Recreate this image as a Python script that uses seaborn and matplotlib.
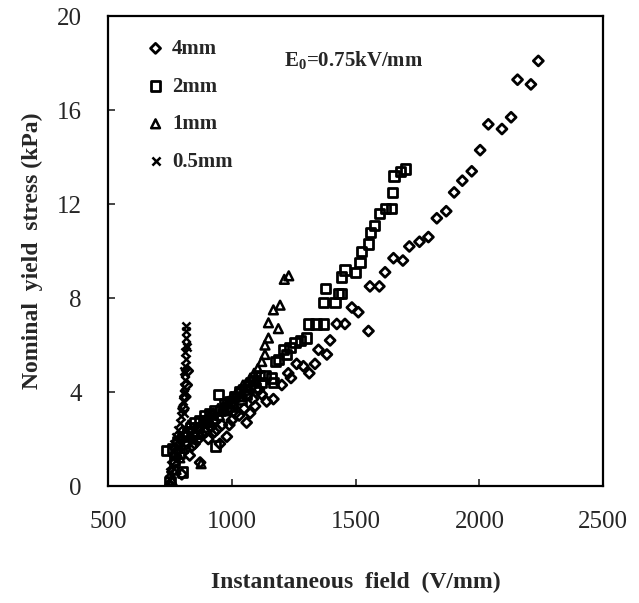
import numpy as np
import pandas as pd
import matplotlib
matplotlib.use('Agg')
import matplotlib.pyplot as plt
import seaborn as sns

# data (V/mm, kPa)
x_4mm = [2238, 2154, 2208, 2128, 2091, 2036, 2003, 1969, 1931, 1898, 1866, 1828, 1794, 1758,
         1717, 1691, 1653, 1619, 1596, 1558, 1552, 1511, 1485, 1457, 1424, 1397, 1384, 1350,
         1336, 1313, 1289, 1262, 1239, 1228, 1202, 1168, 1141, 1121, 1094, 1074, 1060, 1030,
         1000, 980, 952, 930, 905, 880, 872, 850, 830, 822, 818, 812, 805, 798, 790, 770, 750,
         1110, 1085, 1050, 1015, 990, 960, 940, 915, 895, 865, 840, 780, 760]
y_4mm = [18.1, 17.3, 17.1, 15.7, 15.2, 15.4, 14.3, 13.4, 13.0, 12.5, 11.7, 11.4, 10.6, 10.4,
         10.2, 9.6, 9.7, 9.1, 8.5, 8.5, 6.6, 7.4, 7.6, 6.9, 6.9, 6.2, 5.6, 5.8,
         5.2, 4.8, 5.1, 5.2, 4.6, 4.8, 4.3, 3.7, 3.6, 3.9, 3.4, 3.1, 2.7, 3.0,
         2.8, 2.1, 1.8, 2.3, 2.0, 2.2, 1.0, 1.8, 1.3, 4.9, 4.3, 3.8, 3.3, 0.5, 2.0, 1.0, 0.0,
         4.1, 3.7, 3.3, 3.1, 2.6, 2.6, 2.4, 2.5, 2.3, 2.0, 1.7, 1.5, 0.6]

x_2mm = [1700, 1680, 1655, 1650, 1645, 1620, 1595, 1575, 1560, 1552, 1525, 1518, 1498, 1457,
         1444, 1444, 1430, 1417, 1377, 1370, 1370, 1340, 1310, 1303, 1276, 1255, 1235, 1222,
         1208, 1188, 1175, 1168, 1161, 1134, 1110, 1090, 1070, 1050, 1030, 1010, 990, 970,
         945, 930, 910, 890, 870, 850, 832, 820, 800, 780, 760, 735, 935, 800, 750,
         1120, 1095, 1060, 1040, 1000, 980, 955, 920, 900, 860, 840, 810, 790, 770]
y_2mm = [13.5, 13.4, 13.2, 12.5, 11.8, 11.8, 11.6, 11.1, 10.8, 10.3, 10.0, 9.5, 9.1, 9.2,
         8.9, 8.2, 8.2, 7.8, 8.4, 7.8, 6.9, 6.9, 6.9, 6.3, 6.2, 6.1, 5.9, 5.6,
         5.8, 5.4, 5.3, 4.4, 4.6, 4.7, 4.7, 4.5, 4.3, 4.1, 4.0, 3.8, 3.6, 3.5,
         3.9, 3.2, 3.1, 3.0, 2.8, 2.7, 2.5, 2.3, 2.1, 1.9, 1.6, 1.5, 1.7, 0.6, 0.2,
         4.4, 4.2, 3.9, 3.7, 3.4, 3.3, 3.2, 2.9, 2.8, 2.5, 2.3, 1.8, 1.4, 1.1]

x_1mm = [1230, 1212, 1195, 1168, 1148, 1188, 1148, 1134, 1134, 1121, 1105, 1090, 1075, 1060,
         1045, 1030, 1015, 1000, 985, 965, 945, 925, 905, 885, 876, 865, 850, 835, 820, 805,
         790, 775, 760, 1095, 1070, 1040, 1010, 975, 950, 915, 895, 870, 845, 825, 810]
y_1mm = [8.95, 8.8, 7.7, 7.5, 6.95, 6.7, 6.3, 6.0, 5.6, 5.3, 5.0, 4.8, 4.6, 4.4,
         4.3, 4.1, 3.9, 3.8, 3.6, 3.4, 3.3, 3.1, 2.9, 2.7, 0.95, 2.5, 2.3, 2.1, 1.9, 1.6,
         1.2, 0.7, 0.2, 4.5, 4.2, 3.8, 3.5, 3.2, 3.0, 2.7, 2.5, 2.2, 2.0, 2.6, 2.3]

x_05mm = [745, 748, 750, 753, 757, 762, 768, 775, 782, 790, 795, 800, 803, 806, 808, 811,
          813, 810, 815, 812, 817, 814, 816, 805, 812, 808, 818, 815]
y_05mm = [0.0, 0.3, 0.6, 0.9, 1.2, 1.5, 1.8, 2.1, 2.4, 2.7, 3.0, 3.3, 3.6, 3.9, 4.2, 4.5,
          4.8, 5.1, 5.4, 5.7, 6.0, 6.3, 6.6, 3.1, 4.0, 4.9, 5.9, 6.8]

labels = ['4mm', '2mm', '1mm', '0.5mm']
xticks = [500, 1000, 1500, 2000, 2500]
yticks = [0, 4, 8, 12, 16, 20]

sns.set_style('ticks')
plt.rcParams['font.family'] = ['Liberation Serif', 'DejaVu Serif']
plt.rcParams['mathtext.fontset'] = 'custom'
plt.rcParams['mathtext.rm'] = 'Liberation Serif:bold'
plt.rcParams['mathtext.bf'] = 'Liberation Serif:bold'

fig = plt.figure(figsize=(6.39, 6.03), dpi=100)
ax = fig.add_axes([0.169, 0.194, 0.775, 0.779])

series = [
    (x_4mm, y_4mm, 'D', 26, 2.0),
    (x_2mm, y_2mm, 's', 44, 2.0),
    (x_1mm, y_1mm, '^', 40, 1.8),
]
for (xs, ys, m, s, lw), lab in zip(series, labels[:3]):
    df = pd.DataFrame({'field': xs, 'stress': ys})
    sns.scatterplot(data=df, x='field', y='stress', marker=m, s=s, facecolor='none',
                    edgecolor='black', linewidth=lw, ax=ax, label=lab)
df = pd.DataFrame({'field': x_05mm, 'stress': y_05mm})
sns.scatterplot(data=df, x='field', y='stress', marker='x', s=34, color='black',
                linewidth=1.8, ax=ax, label=labels[3])

ax.set_xlim(500, 2500)
ax.set_ylim(0, 20)
ax.set_xticks(xticks)
ax.set_yticks(yticks)
ax.tick_params(direction='in', length=5, width=1.2, labelsize=18)
ax.tick_params(axis='x', pad=18)
ax.tick_params(axis='y', pad=19)
for sp in ax.spines.values():
    sp.set_linewidth(1.6)
    sp.set_color('black')

ax.set_xlabel('Instantaneous  field  (V/mm)', fontsize=17, fontweight='bold', labelpad=28)
ax.set_ylabel('Nominal  yield  stress (kPa)', fontsize=17, fontweight='bold', labelpad=10)

ax.text(0.355, 0.905, r'E$_{0}$=0.75kV/mm', transform=ax.transAxes, fontsize=15,
        fontweight='bold', va='center', ha='left')

ax.legend(loc='upper left', bbox_to_anchor=(0.075, 0.952), frameon=False, borderpad=0,
          borderaxespad=0, handlelength=1.0, handletextpad=0.3, labelspacing=0.85,
          prop={'size': 15, 'weight': 'bold'})

fig.savefig('out.png', dpi=100)
